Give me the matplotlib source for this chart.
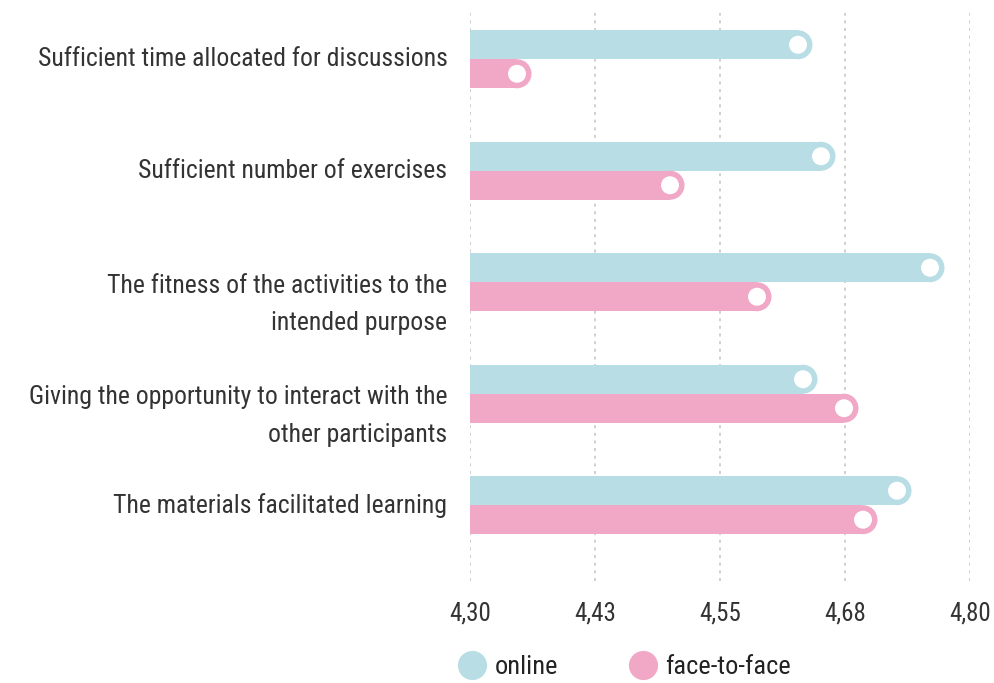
import matplotlib
matplotlib.use("Agg")
import matplotlib.pyplot as plt
from matplotlib import font_manager
from matplotlib.patches import Ellipse
from matplotlib.lines import Line2D

# pick a condensed sans if one is installed
names = {(f.name, f.stretch) for f in font_manager.fontManager.ttflist}
family, stretch, fsize = 'DejaVu Sans', 'normal', 15
for cand in ['Roboto Condensed', 'Liberation Sans Narrow', 'Open Sans Condensed', 'Noto Sans Condensed']:
    if any(n == cand for n, _ in names):
        family, stretch, fsize = cand, 'normal', 18.5
        break
else:
    for n, st in names:
        if n in ('Roboto', 'Noto Sans', 'Open Sans', 'DejaVu Sans') and st in ('condensed', 'semi-condensed', 500, 'ultra-condensed', 'extra-condensed'):
            family, stretch, fsize = n, st, 18.5
            break

plt.rcParams['font.family'] = [family, 'DejaVu Sans']
plt.rcParams['font.stretch'] = stretch

# data
categories = [
    "Sufficient time allocated for discussions",
    "Sufficient number of exercises",
    "The fitness of the activities to the\nintended purpose",
    "Giving the opportunity to interact with the\nother participants",
    "The materials facilitated learning",
]
online = [4.628, 4.651, 4.760, 4.633, 4.727]
face_to_face = [4.347, 4.500, 4.587, 4.674, 4.693]
x_ticks = [4.30, 4.425, 4.55, 4.675, 4.80]
x_tick_labels = ["4,30", "4,43", "4,55", "4,68", "4,80"]
series_names = ["online", "face-to-face"]

col_online = "#b8dde4"
col_f2f = "#f0a8c6"
text_col = "#333333"

fig = plt.figure(figsize=(9.95, 6.83), dpi=100)
ax = fig.add_axes([470 / 995, 1 - 581 / 683, 500 / 995, 568 / 683])

x0 = 4.30
bar_h = 0.26
ax.set_xlim(4.30, 4.80)
ax.set_ylim(4.68, -0.415)

# size of one pixel in data units (used for round caps)
px_x = (4.80 - 4.30) / 500
px_y = (4.68 + 0.415) / 568
cap_w = bar_h / px_y * px_x
dot_w = cap_w * 0.62
dot_h = bar_h * 0.62

for i, cat in enumerate(categories):
    for val, off, col in [(online[i], -bar_h / 2, col_online),
                          (face_to_face[i], bar_h / 2, col_f2f)]:
        y = i + off
        ax.barh(y, val - x0, left=x0, height=bar_h, color=col, zorder=2, linewidth=0)
        ax.add_patch(Ellipse((val, y), cap_w, bar_h, color=col, zorder=2, lw=0))
        ax.add_patch(Ellipse((val, y), dot_w, dot_h, color="white", zorder=3, lw=0))

    # category labels
    lines = cat.split("\n")
    if len(lines) == 1:
        ax.text(-0.045, i, cat, transform=ax.get_yaxis_transform(),
                ha="right", va="center", fontsize=fsize, color=text_col)
    else:
        for j, ln in enumerate(lines):
            ax.text(-0.045, i + 0.03 + j * 0.34, ln, transform=ax.get_yaxis_transform(),
                    ha="right", va="center", fontsize=fsize, color=text_col)

ax.set_xticks(x_ticks)
ax.set_xticklabels(x_tick_labels, fontsize=fsize - 0.5, color=text_col)
ax.set_yticks([])
ax.tick_params(axis="x", length=0, pad=15)
for s in ax.spines.values():
    s.set_visible(False)
ax.grid(axis="x", color="#c4c4c4", linestyle=(0, (2, 3)), linewidth=1.1, zorder=0)

handles = [Line2D([], [], marker="o", linestyle="", markersize=20, color=col_online),
           Line2D([], [], marker="o", linestyle="", markersize=20, color=col_f2f)]
fig.legend(handles, series_names, loc="center", bbox_to_anchor=(625 / 995, 1 - 667 / 683),
           ncol=2, frameon=False, fontsize=fsize + 0.5, handlelength=1.0,
           handletextpad=0.35, columnspacing=2.7, labelcolor="#222222")

fig.savefig("out.png", dpi=100)
